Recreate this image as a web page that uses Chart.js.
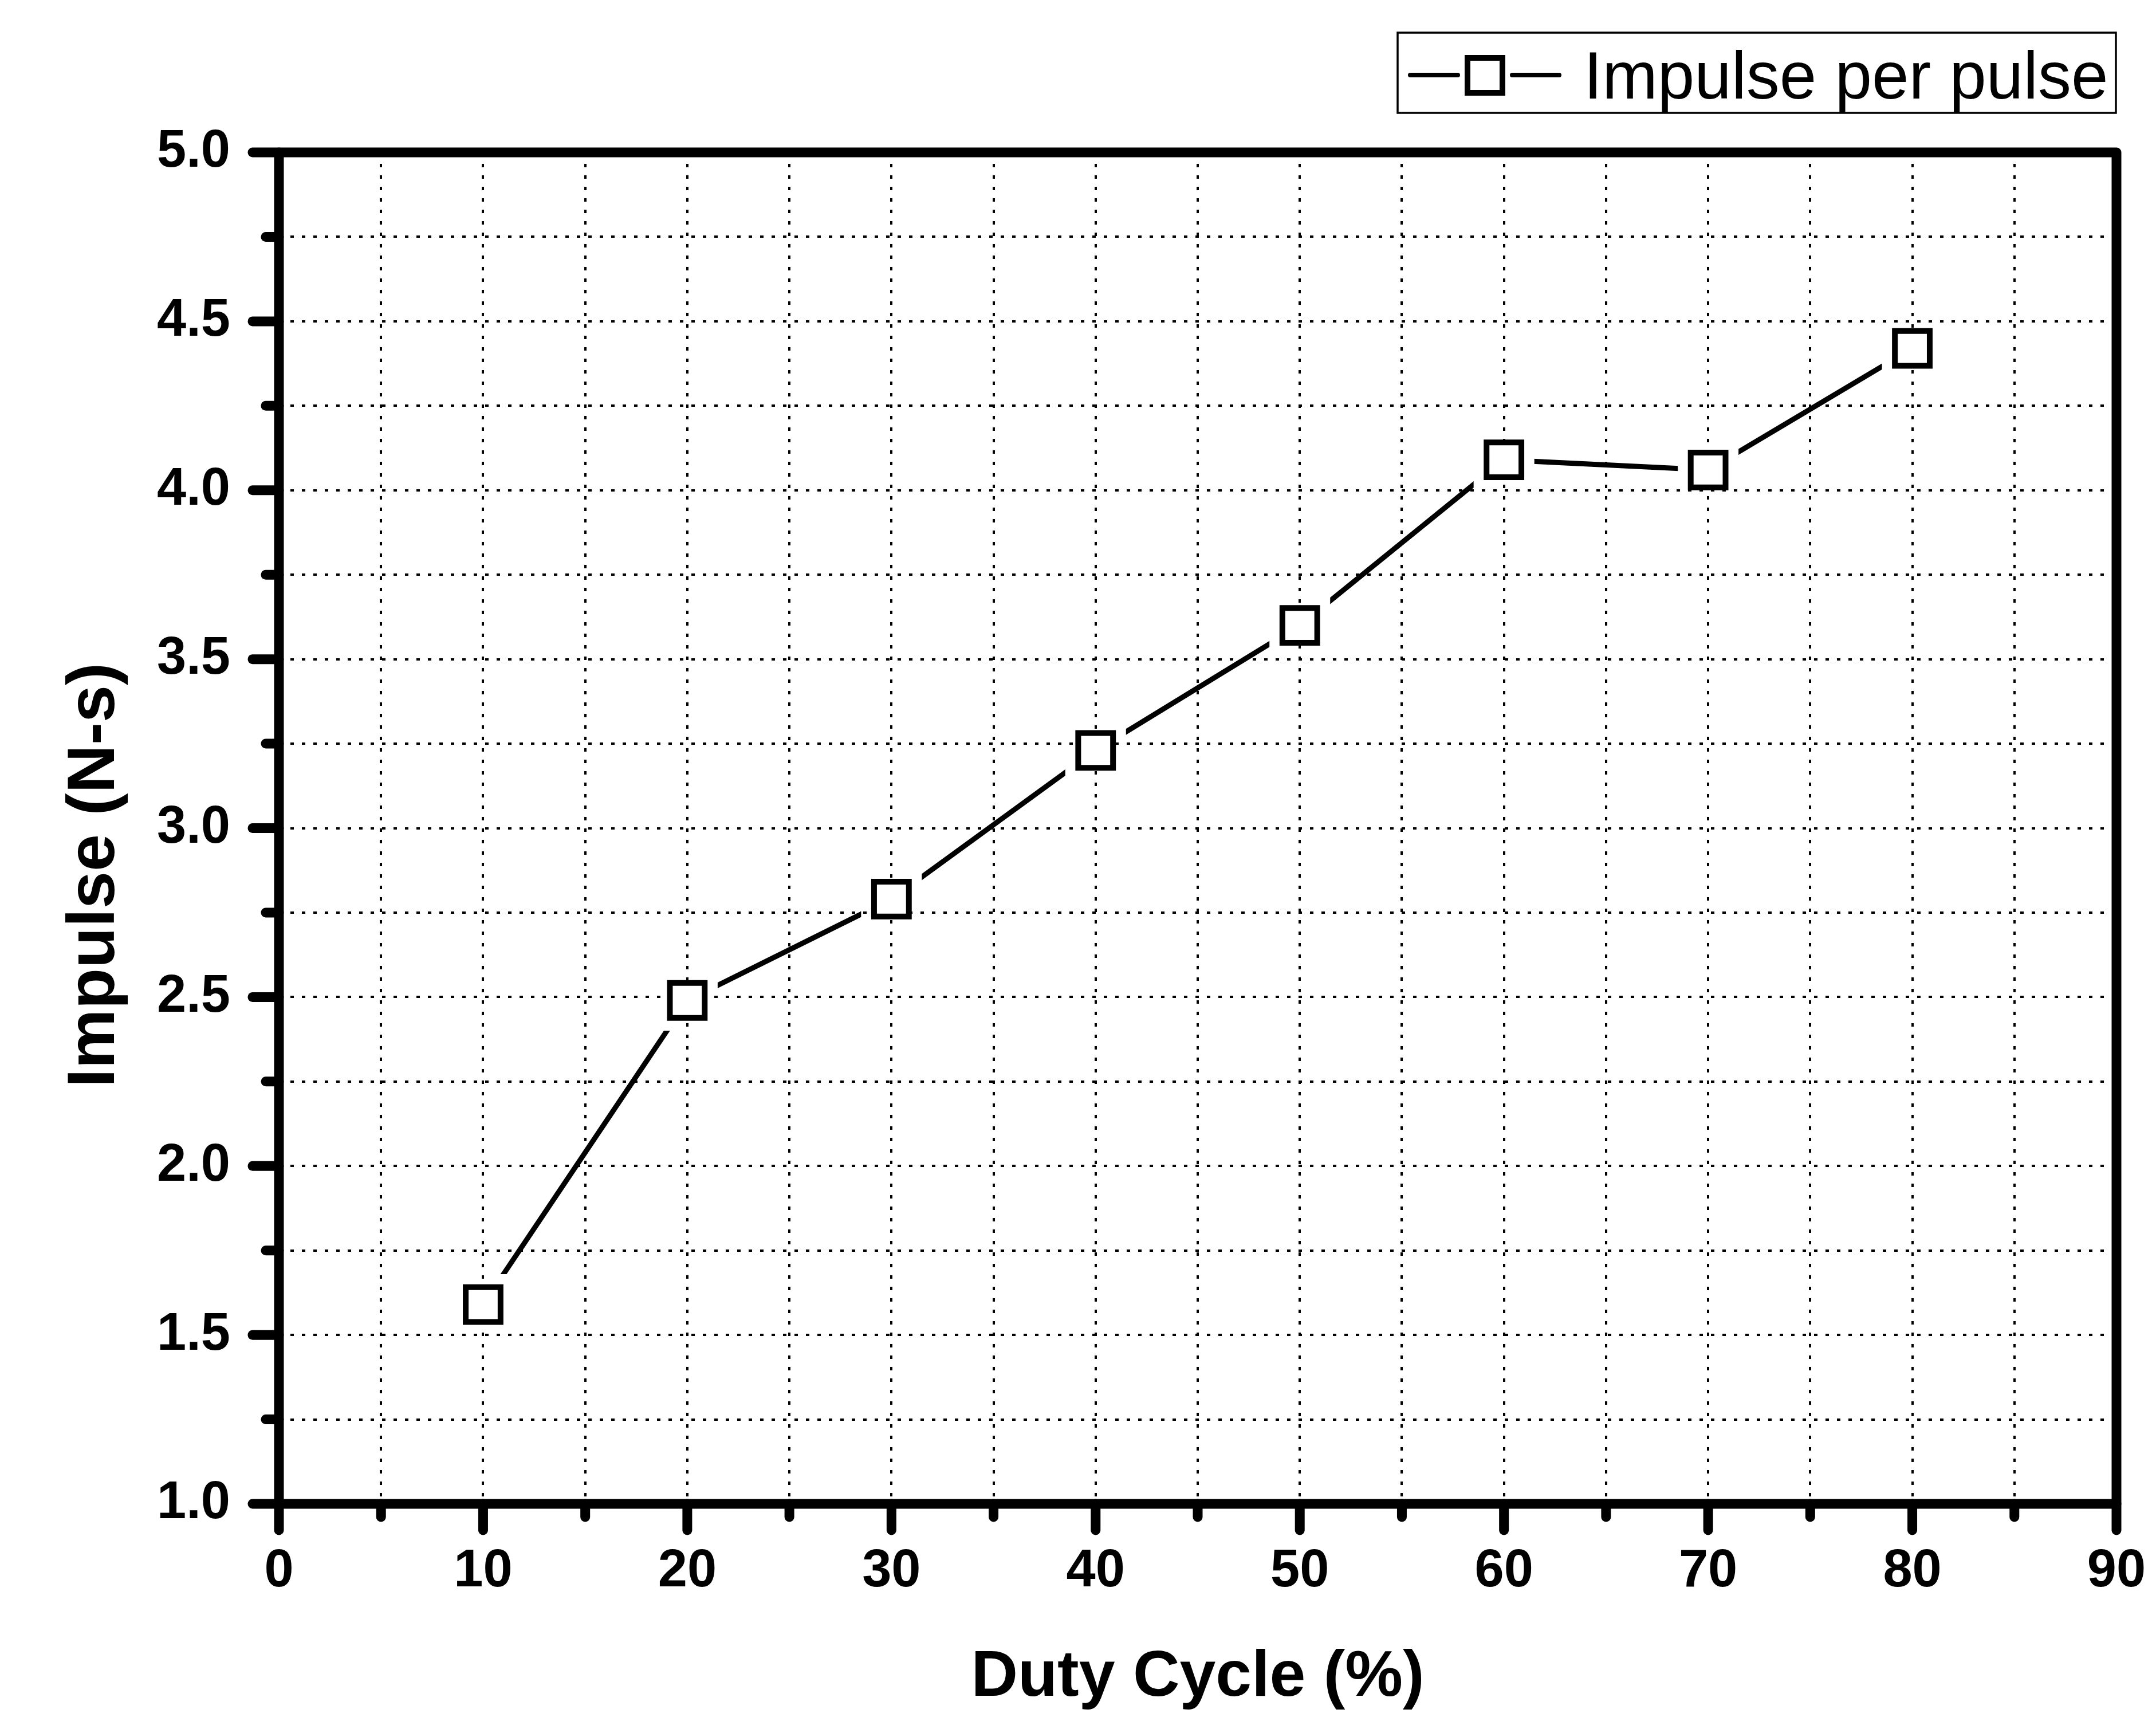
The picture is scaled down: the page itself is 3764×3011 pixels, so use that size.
<!DOCTYPE html>
<html>
<head>
<meta charset="utf-8">
<script src="https://cdn.jsdelivr.net/npm/chart.js@4.4.1/dist/chart.umd.min.js"></script>
<style>
  body { margin: 0; background: #fff; }
  canvas { display: block; }
</style>
</head>
<body>
<canvas id="chart" width="3764" height="3011"></canvas>
<script>
// values
const dutyCycle = [10, 20, 30, 40, 50, 60, 70, 80];
const impulse = [1.59, 2.49, 2.79, 3.23, 3.60, 4.09, 4.06, 4.42];
const seriesName = 'Impulse per pulse';
const xTitle = 'Duty Cycle (%)';
const yTitle = 'Impulse (N-s)';

// labelled ticks (minor ticks sit halfway between)
const xLabels = ['0', '10', '20', '30', '40', '50', '60', '70', '80', '90'];
const yLabels = ['1.0', '1.5', '2.0', '2.5', '3.0', '3.5', '4.0', '4.5', '5.0'];

const FONT = 'Arial, "Liberation Sans", sans-serif';
const points = dutyCycle.map((d, i) => ({x: d, y: impulse[i]}));

// leave a gap in the line around every marker, like Origin does
const markerGap = {
  id: 'markerGap',
  beforeDatasetDraw(chart, args) {
    if (args.index !== 0) return;
    const ctx = chart.ctx, g = 53;
    ctx.save();
    ctx.beginPath();
    ctx.rect(0, 0, chart.width, chart.height);
    chart.getDatasetMeta(0).data.forEach(p => ctx.rect(p.x - g, p.y - g, 2 * g, 2 * g));
    ctx.clip('evenodd');
  },
  afterDatasetDraw(chart, args) {
    if (args.index === 0) chart.ctx.restore();
  }
};

// thick frame plus outward major / minor ticks, and the y title
const frameAndTicks = {
  id: 'frameAndTicks',
  afterDraw(chart) {
    const {ctx, chartArea: a, scales: {x, y}} = chart;
    ctx.save();
    ctx.strokeStyle = '#000';
    ctx.lineWidth = 17;
    ctx.lineCap = 'round';
    x.ticks.forEach(t => {
      const px = x.getPixelForValue(t.value);
      ctx.beginPath();
      ctx.moveTo(px, a.bottom);
      ctx.lineTo(px, a.bottom + (t.label ? 46 : 23));
      ctx.stroke();
    });
    y.ticks.forEach(t => {
      const py = y.getPixelForValue(t.value);
      ctx.beginPath();
      ctx.moveTo(a.left, py);
      ctx.lineTo(a.left - (t.label ? 46 : 23), py);
      ctx.stroke();
    });
    ctx.lineCap = 'butt';
    ctx.lineJoin = 'round';
    ctx.strokeRect(a.left, a.top, a.right - a.left, a.bottom - a.top);

    // y title sits a little below the middle of the axis in the original
    ctx.translate(167, (a.top + a.bottom) / 2 + 82);
    ctx.rotate(-Math.PI / 2);
    ctx.fillStyle = '#000';
    ctx.font = 'bold 117px ' + FONT;
    ctx.textAlign = 'center';
    ctx.textBaseline = 'middle';
    ctx.fillText(yTitle, 0, 0);
    ctx.restore();
  }
};

// boxed legend: line - square - line  name
const boxLegend = {
  id: 'boxLegend',
  afterDraw(chart) {
    const ctx = chart.ctx;
    ctx.save();
    ctx.strokeStyle = '#000';
    ctx.lineWidth = 3.5;
    ctx.strokeRect(2440, 57, 1254, 140);
    ctx.lineWidth = 8;
    ctx.lineCap = 'round';
    ctx.beginPath();
    ctx.moveTo(2462, 131); ctx.lineTo(2545, 131);
    ctx.moveTo(2640, 131); ctx.lineTo(2722, 131);
    ctx.stroke();
    ctx.lineWidth = 10;
    ctx.lineCap = 'butt';
    ctx.fillStyle = '#fff';
    ctx.beginPath();
    ctx.rect(2562, 101, 61, 61);
    ctx.fill();
    ctx.stroke();
    ctx.fillStyle = '#000';
    ctx.font = '116px ' + FONT;
    ctx.textBaseline = 'alphabetic';
    ctx.textAlign = 'left';
    ctx.fillText(seriesName, 2765, 172);
    ctx.restore();
  }
};

new Chart(document.getElementById('chart'), {
  type: 'scatter',
  data: {
    datasets: [{
      label: seriesName,
      data: points,
      showLine: true,
      borderColor: '#000',
      borderWidth: 9,
      borderCapStyle: 'round',
      borderJoinStyle: 'round',
      pointRadius: 0,
      order: 2
    }, {
      label: seriesName + ' markers',
      data: points,
      showLine: false,
      pointStyle: 'rect',
      pointRadius: 43,
      pointBorderWidth: 10,
      pointBorderColor: '#000',
      pointBackgroundColor: '#fff',
      order: 1
    }]
  },
  options: {
    responsive: false,
    devicePixelRatio: 1,
    animation: false,
    events: [],
    layout: {padding: {top: 266, right: 69, left: 0, bottom: 0}},
    plugins: {
      legend: {display: false},
      tooltip: {enabled: false}
    },
    scales: {
      x: {
        type: 'linear',
        min: 0,
        max: 90,
        afterFit: s => { s.height = 386; s.paddingLeft = 0; s.paddingRight = 0; },
        border: {display: false, dash: [6, 14]},
        grid: {color: '#000', lineWidth: 4, drawTicks: false},
        ticks: {
          stepSize: 5,
          autoSkip: false,
          maxRotation: 0,
          padding: 63,
          color: '#000',
          font: {family: FONT, size: 92, weight: 'bold'},
          callback: v => {
            const s = String(Math.round(v));
            return Math.abs(v - Math.round(v)) < 1e-6 && xLabels.includes(s) ? s : '';
          }
        },
        title: {
          display: true,
          text: xTitle,
          color: '#000',
          font: {family: FONT, size: 113, weight: 'bold'},
          padding: {top: 0, bottom: 14}
        }
      },
      y: {
        type: 'linear',
        min: 1,
        max: 5,
        afterFit: s => { s.width = 487; s.paddingTop = 0; s.paddingBottom = 0; },
        border: {display: false, dash: [6, 14]},
        grid: {color: '#000', lineWidth: 4, drawTicks: false},
        ticks: {
          stepSize: 0.25,
          maxTicksLimit: 100,
          autoSkip: false,
          padding: 85,
          color: '#000',
          font: {family: FONT, size: 92, weight: 'bold'},
          callback: v => {
            const s = v.toFixed(1);
            return Math.abs(v * 2 - Math.round(v * 2)) < 1e-6 && yLabels.includes(s) ? s : '';
          }
        },
        title: {display: false}
      }
    }
  },
  plugins: [markerGap, frameAndTicks, boxLegend]
});
</script>
</body>
</html>
